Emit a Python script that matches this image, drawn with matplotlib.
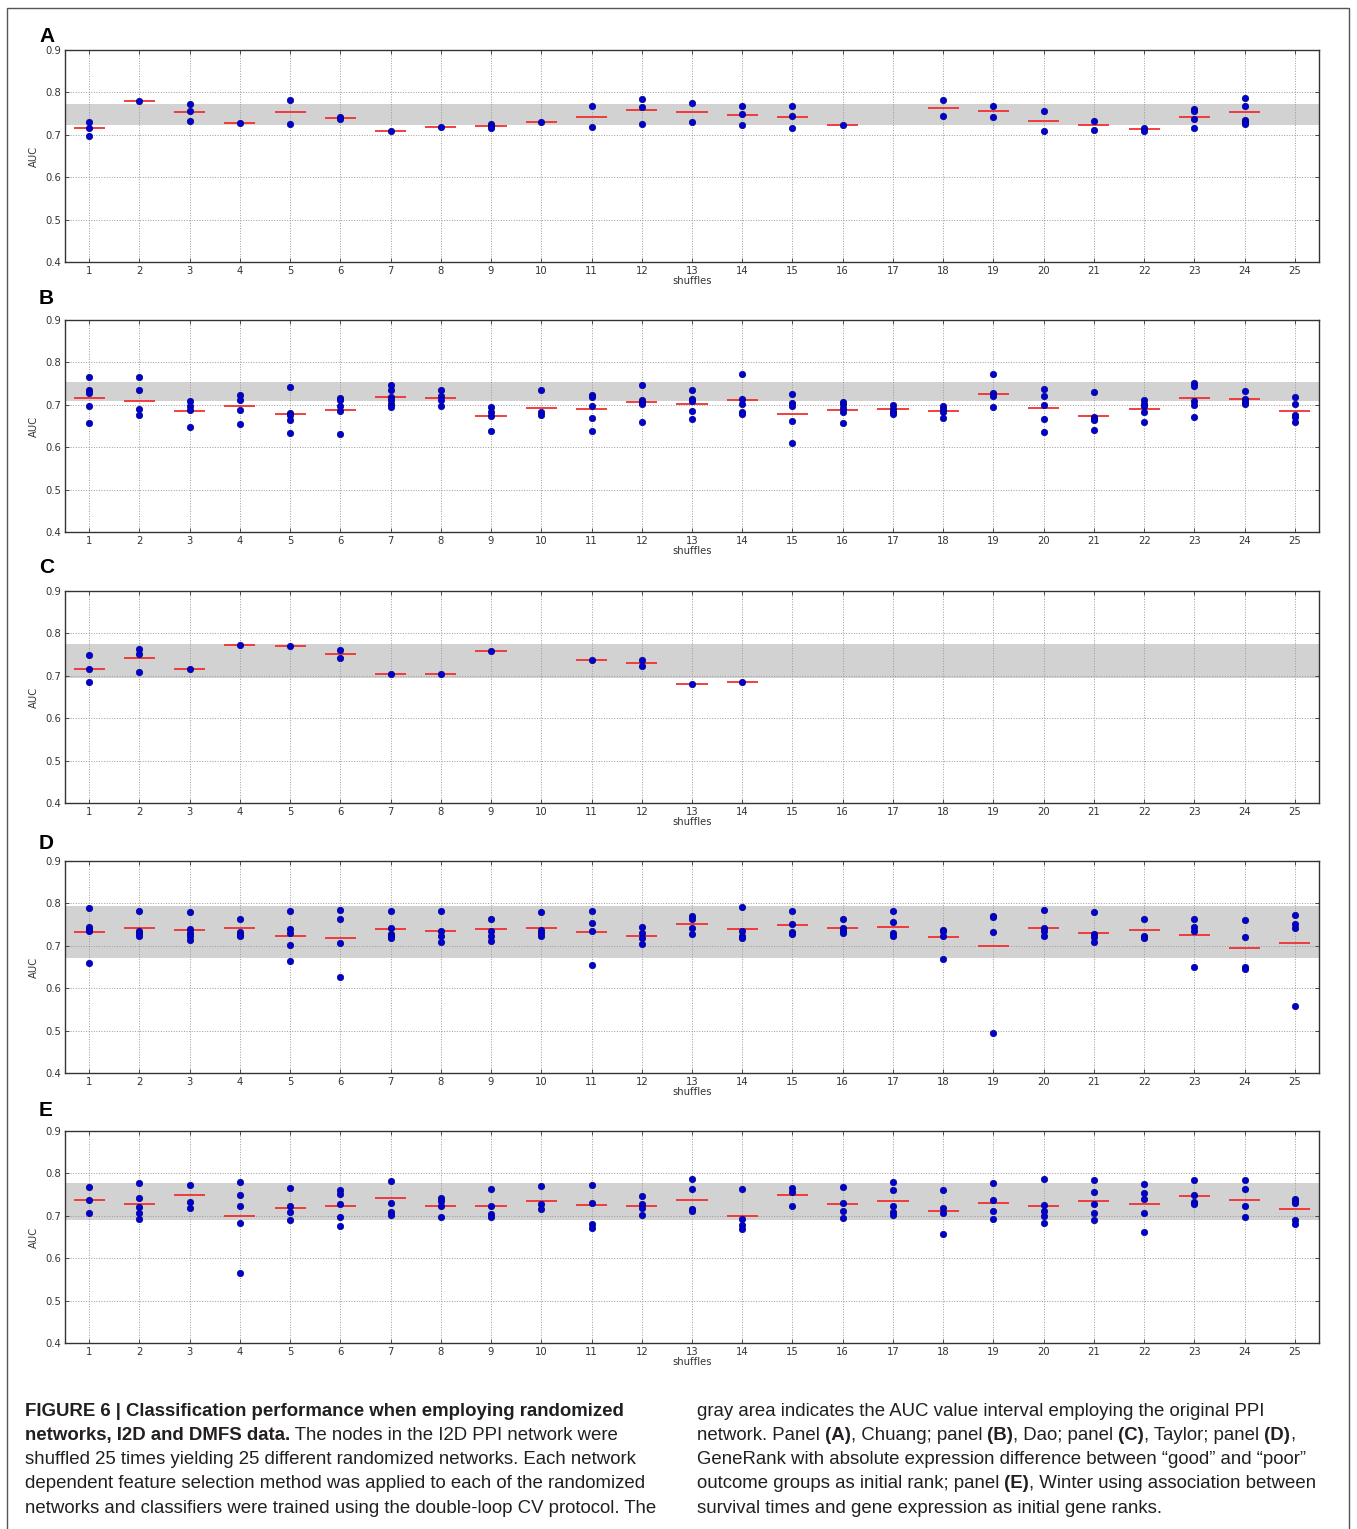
import matplotlib
matplotlib.use('Agg')
import matplotlib.pyplot as plt
from matplotlib.patches import Rectangle

shuffles = list(range(1, 26))
panel_letters = ['A', 'B', 'C', 'D', 'E']

# AUC values of the CV runs for every shuffle, and the red mean bar
A_pts = [[0.731, 0.716, 0.698], [0.779], [0.773, 0.757, 0.733], [0.729], [0.783, 0.725],
         [0.743, 0.737], [0.710], [0.719], [0.726, 0.721, 0.716], [0.730],
         [0.767, 0.719], [0.784, 0.766, 0.726], [0.774, 0.731], [0.767, 0.749, 0.722],
         [0.767, 0.745, 0.716], [0.723], [], [0.781, 0.745], [0.769, 0.743],
         [0.755, 0.708], [0.733, 0.712], [0.716, 0.710], [0.760, 0.756, 0.738, 0.715],
         [0.787, 0.769, 0.734, 0.730, 0.726], []]
A_mean = [0.715, 0.779, 0.754, 0.729, 0.753, 0.739, 0.710, 0.719, 0.721, 0.730,
          0.743, 0.759, 0.753, 0.746, 0.742, 0.724, None, 0.763, 0.756, 0.732,
          0.723, 0.713, 0.742, 0.754, None]
A_band = (0.724, 0.773)

B_pts = [[0.766, 0.735, 0.729, 0.698, 0.656], [0.766, 0.735, 0.689, 0.675],
         [0.709, 0.698, 0.688, 0.648], [0.722, 0.711, 0.687, 0.655],
         [0.743, 0.681, 0.675, 0.664, 0.633], [0.716, 0.711, 0.698, 0.685, 0.630],
         [0.747, 0.736, 0.718, 0.712, 0.703, 0.695], [0.735, 0.720, 0.711, 0.697],
         [0.695, 0.682, 0.674, 0.638], [0.736, 0.682, 0.677],
         [0.722, 0.718, 0.698, 0.669, 0.638], [0.747, 0.711, 0.707, 0.701, 0.660],
         [0.735, 0.713, 0.709, 0.685, 0.667], [0.772, 0.713, 0.703, 0.683, 0.678],
         [0.725, 0.704, 0.696, 0.661, 0.610], [0.707, 0.701, 0.692, 0.682, 0.657],
         [0.700, 0.689, 0.683, 0.678], [0.696, 0.690, 0.684, 0.668],
         [0.772, 0.728, 0.720, 0.694], [0.738, 0.721, 0.700, 0.667, 0.635],
         [0.730, 0.672, 0.667, 0.663, 0.641], [0.711, 0.701, 0.697, 0.682, 0.660],
         [0.751, 0.744, 0.709, 0.700, 0.672], [0.733, 0.713, 0.707, 0.702],
         [0.719, 0.703, 0.676, 0.671, 0.659]]
B_mean = [0.717, 0.709, 0.686, 0.697, 0.679, 0.688, 0.718, 0.715, 0.673, 0.692,
          0.689, 0.707, 0.702, 0.711, 0.679, 0.688, 0.689, 0.685, 0.726, 0.692,
          0.674, 0.690, 0.715, 0.713, 0.686]
B_band = (0.709, 0.754)

C_pts = [[0.748, 0.717, 0.685], [0.763, 0.752, 0.710], [0.716], [0.772], [0.770],
         [0.762, 0.743], [0.705], [0.704], [0.759], [], [0.737], [0.738, 0.723],
         [0.680], [0.686], [], [], [], [], [], [], [], [], [], [], []]
C_mean = [0.717, 0.742, 0.716, 0.772, 0.770, 0.752, 0.705, 0.704, 0.759, None,
          0.737, 0.730, 0.680, 0.686, None, None, None, None, None, None,
          None, None, None, None, None]
C_band = (0.694, 0.774)

D_pts = [[0.790, 0.744, 0.738, 0.734, 0.660], [0.782, 0.735, 0.731, 0.722],
         [0.780, 0.740, 0.730, 0.722, 0.714], [0.763, 0.733, 0.726, 0.723],
         [0.782, 0.739, 0.731, 0.702, 0.663], [0.785, 0.763, 0.706, 0.626],
         [0.782, 0.741, 0.727, 0.722, 0.718], [0.783, 0.734, 0.723, 0.709],
         [0.763, 0.734, 0.722, 0.711], [0.780, 0.738, 0.731, 0.722],
         [0.783, 0.754, 0.735, 0.654], [0.745, 0.731, 0.719, 0.705],
         [0.770, 0.763, 0.741, 0.729], [0.792, 0.734, 0.723, 0.719],
         [0.781, 0.752, 0.733, 0.727], [0.763, 0.741, 0.734, 0.730],
         [0.783, 0.756, 0.730, 0.723], [0.738, 0.734, 0.722, 0.668],
         [0.771, 0.767, 0.732, 0.494], [0.784, 0.741, 0.734, 0.722],
         [0.780, 0.727, 0.720, 0.709], [0.763, 0.723, 0.719],
         [0.763, 0.744, 0.734, 0.650], [0.760, 0.720, 0.651, 0.645],
         [0.773, 0.752, 0.743, 0.559]]
D_mean = [0.732, 0.743, 0.737, 0.742, 0.723, 0.719, 0.739, 0.734, 0.739, 0.741,
          0.732, 0.723, 0.751, 0.739, 0.749, 0.741, 0.745, 0.720, 0.700, 0.743,
          0.731, 0.738, 0.725, 0.694, 0.706]
D_band = (0.671, 0.793)

E_pts = [[0.769, 0.738, 0.706], [0.778, 0.741, 0.721, 0.706, 0.693],
         [0.772, 0.732, 0.718], [0.780, 0.749, 0.723, 0.682, 0.564],
         [0.765, 0.723, 0.708, 0.690], [0.761, 0.752, 0.727, 0.697, 0.677],
         [0.783, 0.731, 0.709, 0.701], [0.742, 0.734, 0.723, 0.696],
         [0.763, 0.723, 0.705, 0.697], [0.770, 0.728, 0.716],
         [0.773, 0.730, 0.681, 0.672], [0.746, 0.729, 0.718, 0.701],
         [0.786, 0.763, 0.715, 0.711], [0.763, 0.693, 0.678, 0.668],
         [0.765, 0.756, 0.723], [0.769, 0.731, 0.712, 0.694],
         [0.779, 0.760, 0.723, 0.710, 0.703], [0.761, 0.718, 0.706, 0.656],
         [0.777, 0.738, 0.712, 0.693], [0.787, 0.726, 0.712, 0.700, 0.682],
         [0.784, 0.755, 0.728, 0.706, 0.690], [0.776, 0.753, 0.739, 0.707, 0.662],
         [0.784, 0.749, 0.733, 0.728], [0.785, 0.763, 0.723, 0.698],
         [0.739, 0.734, 0.730, 0.690, 0.681]]
E_mean = [0.738, 0.727, 0.749, 0.700, 0.719, 0.723, 0.741, 0.724, 0.722, 0.734,
          0.726, 0.722, 0.738, 0.700, 0.748, 0.727, 0.736, 0.711, 0.730, 0.722,
          0.734, 0.728, 0.746, 0.738, 0.716]
E_band = (0.690, 0.778)

panels = [(A_pts, A_mean, A_band), (B_pts, B_mean, B_band), (C_pts, C_mean, C_band),
          (D_pts, D_mean, D_band), (E_pts, E_mean, E_band)]

y_ticks = [0.4, 0.5, 0.6, 0.7, 0.8, 0.9]

W, H = 1357, 1529
fig = plt.figure(figsize=(W / 100, H / 100), dpi=100)
fig.patch.set_facecolor('white')

# axes tops in pixels, same height for all panels
tops = [50, 320, 591, 861, 1131]
ax_h = 212
ax_l, ax_r = 65, 1319
letter_y = [37, 298, 568, 843, 1110]

for k, (pts, means, band) in enumerate(panels):
    top = tops[k]
    ax = fig.add_axes([ax_l / W, 1 - (top + ax_h) / H, (ax_r - ax_l) / W, ax_h / H])
    ax.axhspan(band[0], band[1], color='#d2d2d2', lw=0, zorder=1)
    for x, vals, m in zip(shuffles, pts, means):
        if vals:
            ax.plot([x] * len(vals), vals, 'o', color='#0000d0', mec='#00008a',
                    mew=0.5, ms=4.6, zorder=3)
        if m is not None:
            ax.hlines(m, x - 0.31, x + 0.31, color='#f03030', lw=1.3, zorder=2)
    ax.set_xlim(0.52, 25.48)
    ax.set_ylim(0.4, 0.9)
    ax.set_xticks(shuffles)
    ax.set_yticks(y_ticks)
    ax.set_yticklabels(['%.1f' % v for v in y_ticks])
    ax.grid(True, ls=':', color='#9a9a9a', lw=0.7, zorder=1.5)
    ax.tick_params(direction='in', top=True, right=True, labelsize=7.2,
                   length=3, width=0.6, colors='#333333', pad=3)
    for s in ax.spines.values():
        s.set_linewidth(1.0)
        s.set_color('#333333')
    ax.set_xlabel('shuffles', fontsize=7.2, labelpad=0, color='#333333')
    ax.set_ylabel('AUC', fontsize=7.2, labelpad=4, color='#333333')
    fig.text(39 / W, 1 - letter_y[k] / H, panel_letters[k], fontsize=15,
             fontweight='bold', family='Liberation Sans', va='center', ha='left')

# caption, written segment by segment so bold parts sit inline
renderer = fig.canvas.get_renderer()


def caption_line(x_px, y_px, segments):
    x = x_px
    for txt, bold in segments:
        t = fig.text(x / W, 1 - y_px / H, txt, fontsize=13.4, family='Liberation Sans',
                     fontweight='bold' if bold else 'normal', color='#231f20',
                     va='baseline', ha='left')
        x += t.get_window_extent(renderer).width


left_col = [
    [('FIGURE 6 | Classification performance when employing randomized', True)],
    [('networks, I2D and DMFS data.', True), (' The nodes in the I2D PPI network were', False)],
    [('shuffled 25 times yielding 25 different randomized networks. Each network', False)],
    [('dependent feature selection method was applied to each of the randomized', False)],
    [('networks and classifiers were trained using the double-loop CV protocol. The', False)],
]
right_col = [
    [('gray area indicates the AUC value interval employing the original PPI', False)],
    [('network. Panel', False), (' (A)', True), (', Chuang; panel', False), (' (B)', True),
     (', Dao; panel', False), (' (C)', True), (', Taylor; panel', False), (' (D)', True),
     (',', False)],
    [('GeneRank with absolute expression difference between \u201cgood\u201d and \u201cpoor\u201d', False)],
    [('outcome groups as initial rank; panel', False), (' (E)', True),
     (', Winter using association between', False)],
    [('survival times and gene expression as initial gene ranks.', False)],
]
baselines = [1416, 1440, 1464, 1488, 1513]
for yb, segs in zip(baselines, left_col):
    caption_line(25, yb, segs)
for yb, segs in zip(baselines, right_col):
    caption_line(697, yb, segs)

# thin frame around the figure
fig.patches.append(Rectangle((7 / W, -0.01), (1349 - 7) / W, 1.01 - 8 / H,
                             transform=fig.transFigure, fill=False,
                             edgecolor='#555555', lw=1.0))

fig.savefig('out.png', dpi=100)
